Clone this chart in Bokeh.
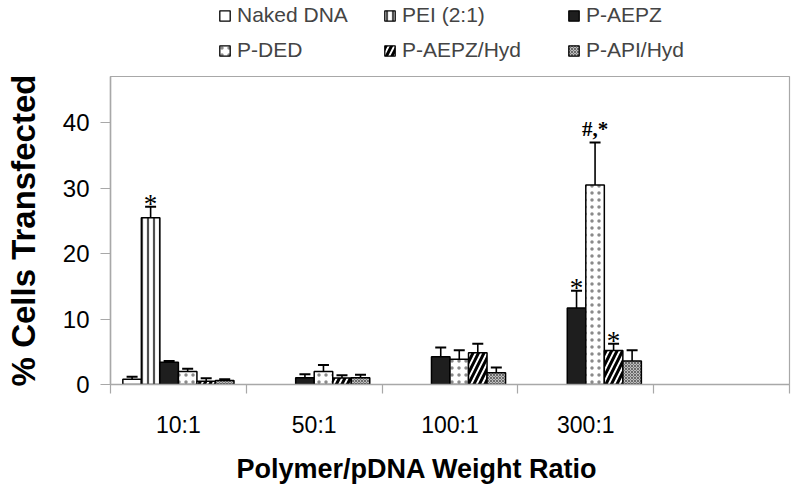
from bokeh.plotting import figure
from bokeh.layouts import column
from bokeh.models import (ColumnDataSource, Legend, LegendItem, Whisker, TeeHead,
                          FixedTicker, Title, Range1d)
from bokeh.core.properties import value
from bokeh.embed import file_html
from bokeh.resources import INLINE

# ---------------- data ----------------
categories = ["10:1", "50:1", "100:1", "300:1"]
n_slots = 5  # axis has one empty slot at the right

series = ["Naked DNA", "PEI (2:1)", "P-AEPZ", "P-DED", "P-AEPZ/Hyd", "P-API/Hyd"]
naked_dna = [0.8, None, None, None]
pei = [25.5, None, None, None]
p_aepz = [3.4, 1.05, 4.25, 11.7]
p_ded = [2.0, 2.0, 3.85, 30.5]
p_aepz_hyd = [0.5, 1.0, 4.85, 5.2]
p_api_hyd = [0.6, 1.05, 1.8, 3.6]

naked_dna_err = [0.4, None, None, None]
pei_err = [1.7, None, None, None]
p_aepz_err = [0.2, 0.5, 1.4, 2.65]
p_ded_err = [0.4, 1.0, 1.4, 6.5]
p_aepz_hyd_err = [0.45, 0.4, 1.4, 1.05]
p_api_hyd_err = [0.2, 0.45, 0.8, 1.65]

# significance marks: (series, category, text)
marks = [("PEI (2:1)", "10:1", "*"),
         ("P-AEPZ", "300:1", "*"),
         ("P-DED", "300:1", "#,*"),
         ("P-AEPZ/Hyd", "300:1", "*")]

y_ticks = [0, 10, 20, 30, 40]
y_max = 47.1

values = [naked_dna, pei, p_aepz, p_ded, p_aepz_hyd, p_api_hyd]
errors = [naked_dna_err, pei_err, p_aepz_err, p_ded_err, p_aepz_hyd_err, p_api_hyd_err]

styles = [
    dict(fill_color="white"),
    dict(fill_color="white", hatch_pattern="|", hatch_color="#505050", hatch_scale=6, hatch_weight=2.2),
    dict(fill_color="#1e1e1e"),
    dict(fill_color="white", hatch_pattern=".", hatch_color="#8a8a8a", hatch_scale=7, hatch_weight=1),
    dict(fill_color="white", hatch_pattern="/", hatch_color="black", hatch_scale=11, hatch_weight=3),
    dict(fill_color="#bdbdbd", hatch_pattern="x", hatch_color="#555555", hatch_scale=3, hatch_weight=0.8),
]

FONT = "Liberation Sans"
GRAY = "#a8a8a8"
W = 800
bar_w = 0.1364

# ---------------- sources ----------------
sources = []
for j, (vals, errs) in enumerate(zip(values, errors)):
    xs, tops, ups = [], [], []
    for i, (v, e) in enumerate(zip(vals, errs)):
        if v is None:
            continue
        xs.append(i + 0.5 + (j - 2.5) * bar_w)
        tops.append(v)
        ups.append(v + e)
    sources.append(ColumnDataSource(dict(x=xs, top=tops, up=ups)))

# ---------------- legend strip (swatch-only renderers with no drawable data) ----------------
lf = figure(width=W, height=70, x_range=Range1d(0, n_slots), y_range=Range1d(0, 1),
            output_backend="svg", toolbar_location=None, x_axis_type=None, y_axis_type=None,
            min_border_left=0, min_border_right=0, min_border_top=0, min_border_bottom=0)
lf.outline_line_color = None
lf.xgrid.visible = False
lf.ygrid.visible = False
swatches = []
for st in styles:
    empty = ColumnDataSource(dict(x=[float("nan")], top=[float("nan")]))
    swatches.append(lf.vbar(x="x", top="top", bottom=0, width=bar_w, source=empty,
                            line_color="black", line_width=1.3, **st))
col_x = [108, 273, 457]
for k in range(3):
    items = [LegendItem(label=series[k], renderers=[swatches[k]]),
             LegendItem(label=series[k + 3], renderers=[swatches[k + 3]])]
    lg = Legend(items=items, location=(col_x[k], 8), orientation="vertical",
                glyph_width=13, glyph_height=13, label_standoff=6,
                label_text_font=FONT, label_text_font_size="21px",
                label_height=24, spacing=11, padding=0, margin=0,
                border_line_color=None, background_fill_alpha=0)
    lf.add_layout(lg)

# ---------------- main chart ----------------
p = figure(width=W, height=424, x_range=Range1d(0, n_slots), y_range=Range1d(0, y_max),
           output_backend="svg", toolbar_location=None,
           min_border_left=110, min_border_right=11, min_border_top=6, min_border_bottom=108)
p.xgrid.visible = False
p.ygrid.visible = False
p.outline_line_color = GRAY
p.outline_line_width = 1.2

for src, st in zip(sources, styles):
    p.vbar(x="x", top="top", bottom=0, width=bar_w, source=src,
           line_color="black", line_width=1.5, **st)
    wk = Whisker(source=src, base="x", lower="top", upper="up",
                 line_color="black", line_width=1.6,
                 lower_head=None,
                 upper_head=TeeHead(size=11, line_color="black", line_width=2))
    wk.level = "overlay"
    p.add_layout(wk)

# significance marks
star = dict(x=[], y=[], text=[])
combo = dict(x=[], y=[], text=[])
for s, c, t in marks:
    j = series.index(s)
    i = categories.index(c)
    d = star if t == "*" else combo
    d["x"].append(i + 0.5 + (j - 2.5) * bar_w)
    d["y"].append(values[j][i] + errors[j][i])
    d["text"].append(t)
p.text(x="x", y="y", text="text", source=ColumnDataSource(star),
       text_font=value("Liberation Serif"), text_font_size="27px",
       text_align="center", text_baseline="alphabetic", y_offset=-3, text_color="black")
p.text(x="x", y="y", text="text", source=ColumnDataSource(combo),
       text_font=value("Liberation Serif"), text_font_size="21px", text_font_style="bold",
       text_align="center", text_baseline="alphabetic", y_offset=-14, text_color="black")

# axes
centers = [i + 0.5 for i in range(len(categories))]
bounds = list(range(n_slots + 1))
p.xaxis.ticker = FixedTicker(ticks=centers, minor_ticks=bounds)
p.xaxis.major_label_overrides = {c: lab for c, lab in zip(centers, categories)}
p.xaxis.major_tick_out = 0
p.xaxis.major_tick_in = 0
p.xaxis.minor_tick_out = 9
p.xaxis.minor_tick_in = 0
p.xaxis.minor_tick_line_color = GRAY
p.xaxis.minor_tick_line_width = 1.2
p.xaxis.axis_line_color = GRAY
p.xaxis.axis_line_width = 1.5
p.xaxis.major_label_text_font = FONT
p.xaxis.major_label_text_font_size = "23px"
p.xaxis.major_label_text_color = "black"
p.xaxis.major_label_standoff = 18

p.yaxis.ticker = FixedTicker(ticks=y_ticks, minor_ticks=[])
p.yaxis.major_tick_out = 10
p.yaxis.major_tick_in = 0
p.yaxis.major_tick_line_color = GRAY
p.yaxis.major_tick_line_width = 1.2
p.yaxis.axis_line_color = GRAY
p.yaxis.axis_line_width = 1.5
p.yaxis.major_label_text_font = FONT
p.yaxis.major_label_text_font_size = "24px"
p.yaxis.major_label_text_color = "black"
p.yaxis.major_label_standoff = 11
p.yaxis.axis_label = "% Cells Transfected"
p.yaxis.axis_label_text_font = FONT
p.yaxis.axis_label_text_font_size = "33px"
p.yaxis.axis_label_text_font_style = "bold"
p.yaxis.axis_label_text_color = "black"
p.yaxis.axis_label_standoff = 18

p.add_layout(Title(text="Polymer/pDNA Weight Ratio", align="left", offset=126,
                   standoff=22, text_font=FONT, text_font_size="27px",
                   text_font_style="bold", text_color="black"), "below")

layout = column(lf, p, spacing=0)
open("out.html", "w").write(file_html(layout, INLINE))
